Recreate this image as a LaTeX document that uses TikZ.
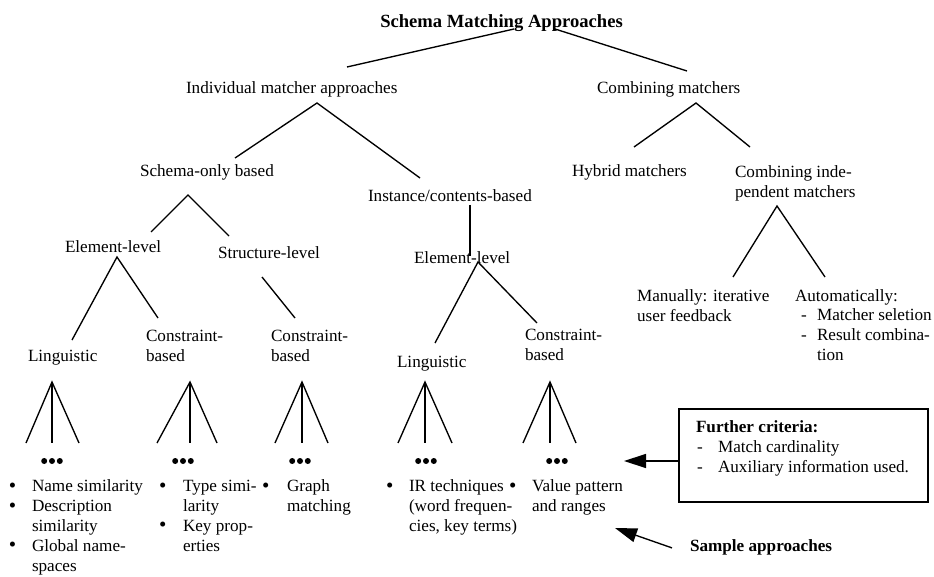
\documentclass[tikz,border=0pt]{standalone}
\usepackage{fontspec}
\setmainfont{Liberation Serif}
\usetikzlibrary{arrows.meta}
\newcommand\bul{\smash{\fontsize{21}{19.8}\selectfont\raisebox{-0.5pt}{\textbullet}}}
\begin{document}
\begin{tikzpicture}[x=1pt,y=-1pt,
  every node/.style={inner sep=0pt, outer sep=0pt, font=\fontsize{17.15}{19.8}\selectfont},
  lbl/.style={anchor=north west, align=left},
  ttl/.style={anchor=north west, align=left, font=\fontsize{17.15}{19.8}\selectfont\bfseries},
  edge/.style={line width=1.35pt},
  arr/.style={line width=1.35pt, -{Triangle[length=22pt,width=14pt]}},
  dotc/.style={fill=black}]
\useasboundingbox (0,0) rectangle (934,577);

% ---------- labels ----------
\node[anchor=base, font=\fontsize{18.6}{22}\selectfont\bfseries] (title) at (501.5,27.5) {Schema Matching Approaches};
\node[lbl] (ind) at (186,80) {\strut Individual matcher approaches};
\node[lbl] (comb) at (597,80) {\strut Combining matchers};
\node[lbl] (schema) at (140,163) {\strut Schema-only based};
\node[lbl] (inst) at (368,188) {\strut Instance/contents-based};
\node[lbl] (hybrid) at (572,163) {\strut Hybrid matchers};
\node[lbl] (combind) at (735,164) {\strut Combining inde-\\\strut pendent matchers};
\node[lbl] (elem1) at (65,239) {\strut Element-level};
\node[lbl] (struct) at (218,245) {\strut Structure-level};
\node[lbl] (elem2) at (414,250) {\strut Element-level};
\node[lbl] (ling1) at (28,348) {\strut Linguistic};
\node[lbl] (cons1) at (146,328) {\strut Constraint-\\\strut based};
\node[lbl] (cons2) at (271,328) {\strut Constraint-\\\strut based};
\node[lbl] (ling2) at (397,354) {\strut Linguistic};
\node[lbl] (cons3) at (525,327) {\strut Constraint-\\\strut based};
\node[lbl] (manual) at (637,288) {\strut Manually: iterative\\\strut user feedback};
\node[lbl] (auto) at (795,288) {\strut Automatically:};
\node[lbl] (autod) at (801,307) {\strut -\\\strut -};
\node[lbl] (autot) at (817,307) {\strut Matcher seletion\\\strut Result combina-\\\strut tion};

% ---------- tree connectors ----------
\coordinate (t-l) at (514,29);   \coordinate (ind-i) at (347,67);
\coordinate (t-r) at (555,29);   \coordinate (comb-i) at (687,71);
\coordinate (ind-o) at (317,103); \coordinate (schema-i) at (235,158); \coordinate (inst-i) at (420,178);
\coordinate (comb-o) at (696,103); \coordinate (hybrid-i) at (634,147); \coordinate (combind-i) at (750,147);
\coordinate (schema-o) at (188,195); \coordinate (elem1-i) at (151,232); \coordinate (struct-i) at (229,236);
\coordinate (elem1-o) at (117,257); \coordinate (ling1-i) at (72,340); \coordinate (cons1-i) at (158,318);
\coordinate (struct-o) at (262,277); \coordinate (cons2-i) at (295,318);
\coordinate (inst-o) at (470,205); \coordinate (elem2-i) at (470,256);
\coordinate (elem2-o) at (478,262); \coordinate (ling2-i) at (435,343); \coordinate (cons3-i) at (537,323);
\coordinate (combind-o) at (777,206); \coordinate (manual-i) at (733,277); \coordinate (auto-i) at (825,277);

\draw[edge] (t-l) -- (ind-i);
\draw[edge] (t-r) -- (comb-i);
\draw[edge] (schema-i) -- (ind-o) -- (inst-i);
\draw[edge] (hybrid-i) -- (comb-o) -- (combind-i);
\draw[edge] (elem1-i) -- (schema-o) -- (struct-i);
\draw[edge] (ling1-i) -- (elem1-o) -- (cons1-i);
\draw[edge] (struct-o) -- (cons2-i);
\draw[edge] (inst-o) -- (elem2-i);
\draw[edge] (ling2-i) -- (elem2-o) -- (cons3-i);
\draw[edge] (manual-i) -- (combind-o) -- (auto-i);

% ---------- fans with dots ----------
\foreach \l/\c/\r/\d in {26/52/79/52, 157/190/217/183, 275/302/328/300, 398/425/452/426, 523/550/576/557}{
  \draw[edge] (\l,443) -- (\c,382) -- (\r,443);
  \draw[edge] (\c,382) -- (\c,443);
  \fill[dotc] (\d-7.8,461) circle (3pt);
  \fill[dotc] (\d,461) circle (3pt);
  \fill[dotc] (\d+7.8,461) circle (3pt);
}

% ---------- sample approach lists ----------
\node[lbl] (b1) at (9,478) {\strut\bul\\\strut\bul\\\strut\\\strut\bul};
\node[lbl] (s1) at (32,478) {\strut Name similarity\\\strut Description\\\strut similarity\\\strut Global name-\\\strut spaces};
\node[lbl] (b2) at (159,478) {\strut\bul\\\strut\\\strut\bul};
\node[lbl] (s2) at (183,478) {\strut Type simi-\\\strut larity\\\strut Key prop-\\\strut erties};
\node[lbl] (b3) at (262,478) {\strut\bul};
\node[lbl] (s3) at (287,478) {\strut Graph\\\strut matching};
\node[lbl] (b4) at (386,478) {\strut\bul};
\node[lbl] (s4) at (409,478) {\strut IR techniques\\\strut (word frequen-\\\strut cies, key terms)};
\node[lbl] (b5) at (509,478) {\strut\bul};
\node[lbl] (s5) at (532,478) {\strut Value pattern\\\strut and ranges};

% ---------- further criteria box ----------
\node[draw, line width=1.35pt, minimum width=249pt, minimum height=93pt] (box) at (803.5,455.5) {};
\node[ttl] (fc) at (696,419) {\strut Further criteria:};
\node[lbl] (fcd) at (697,439) {\strut -\\\strut -};
\node[lbl] (fct) at (718,439) {\strut Match cardinality\\\strut Auxiliary information used.};
\coordinate (fc-tip) at (624,461);
\draw[arr] ([yshift=-5.5pt]box.west) -- (fc-tip);

% ---------- sample approaches ----------
\node[ttl] (samp) at (690,538) {\strut Sample approaches};
\coordinate (samp-tip) at (615,528);
\draw[arr] ([xshift=-18pt]samp.west) -- (samp-tip);
\end{tikzpicture}
\end{document}
